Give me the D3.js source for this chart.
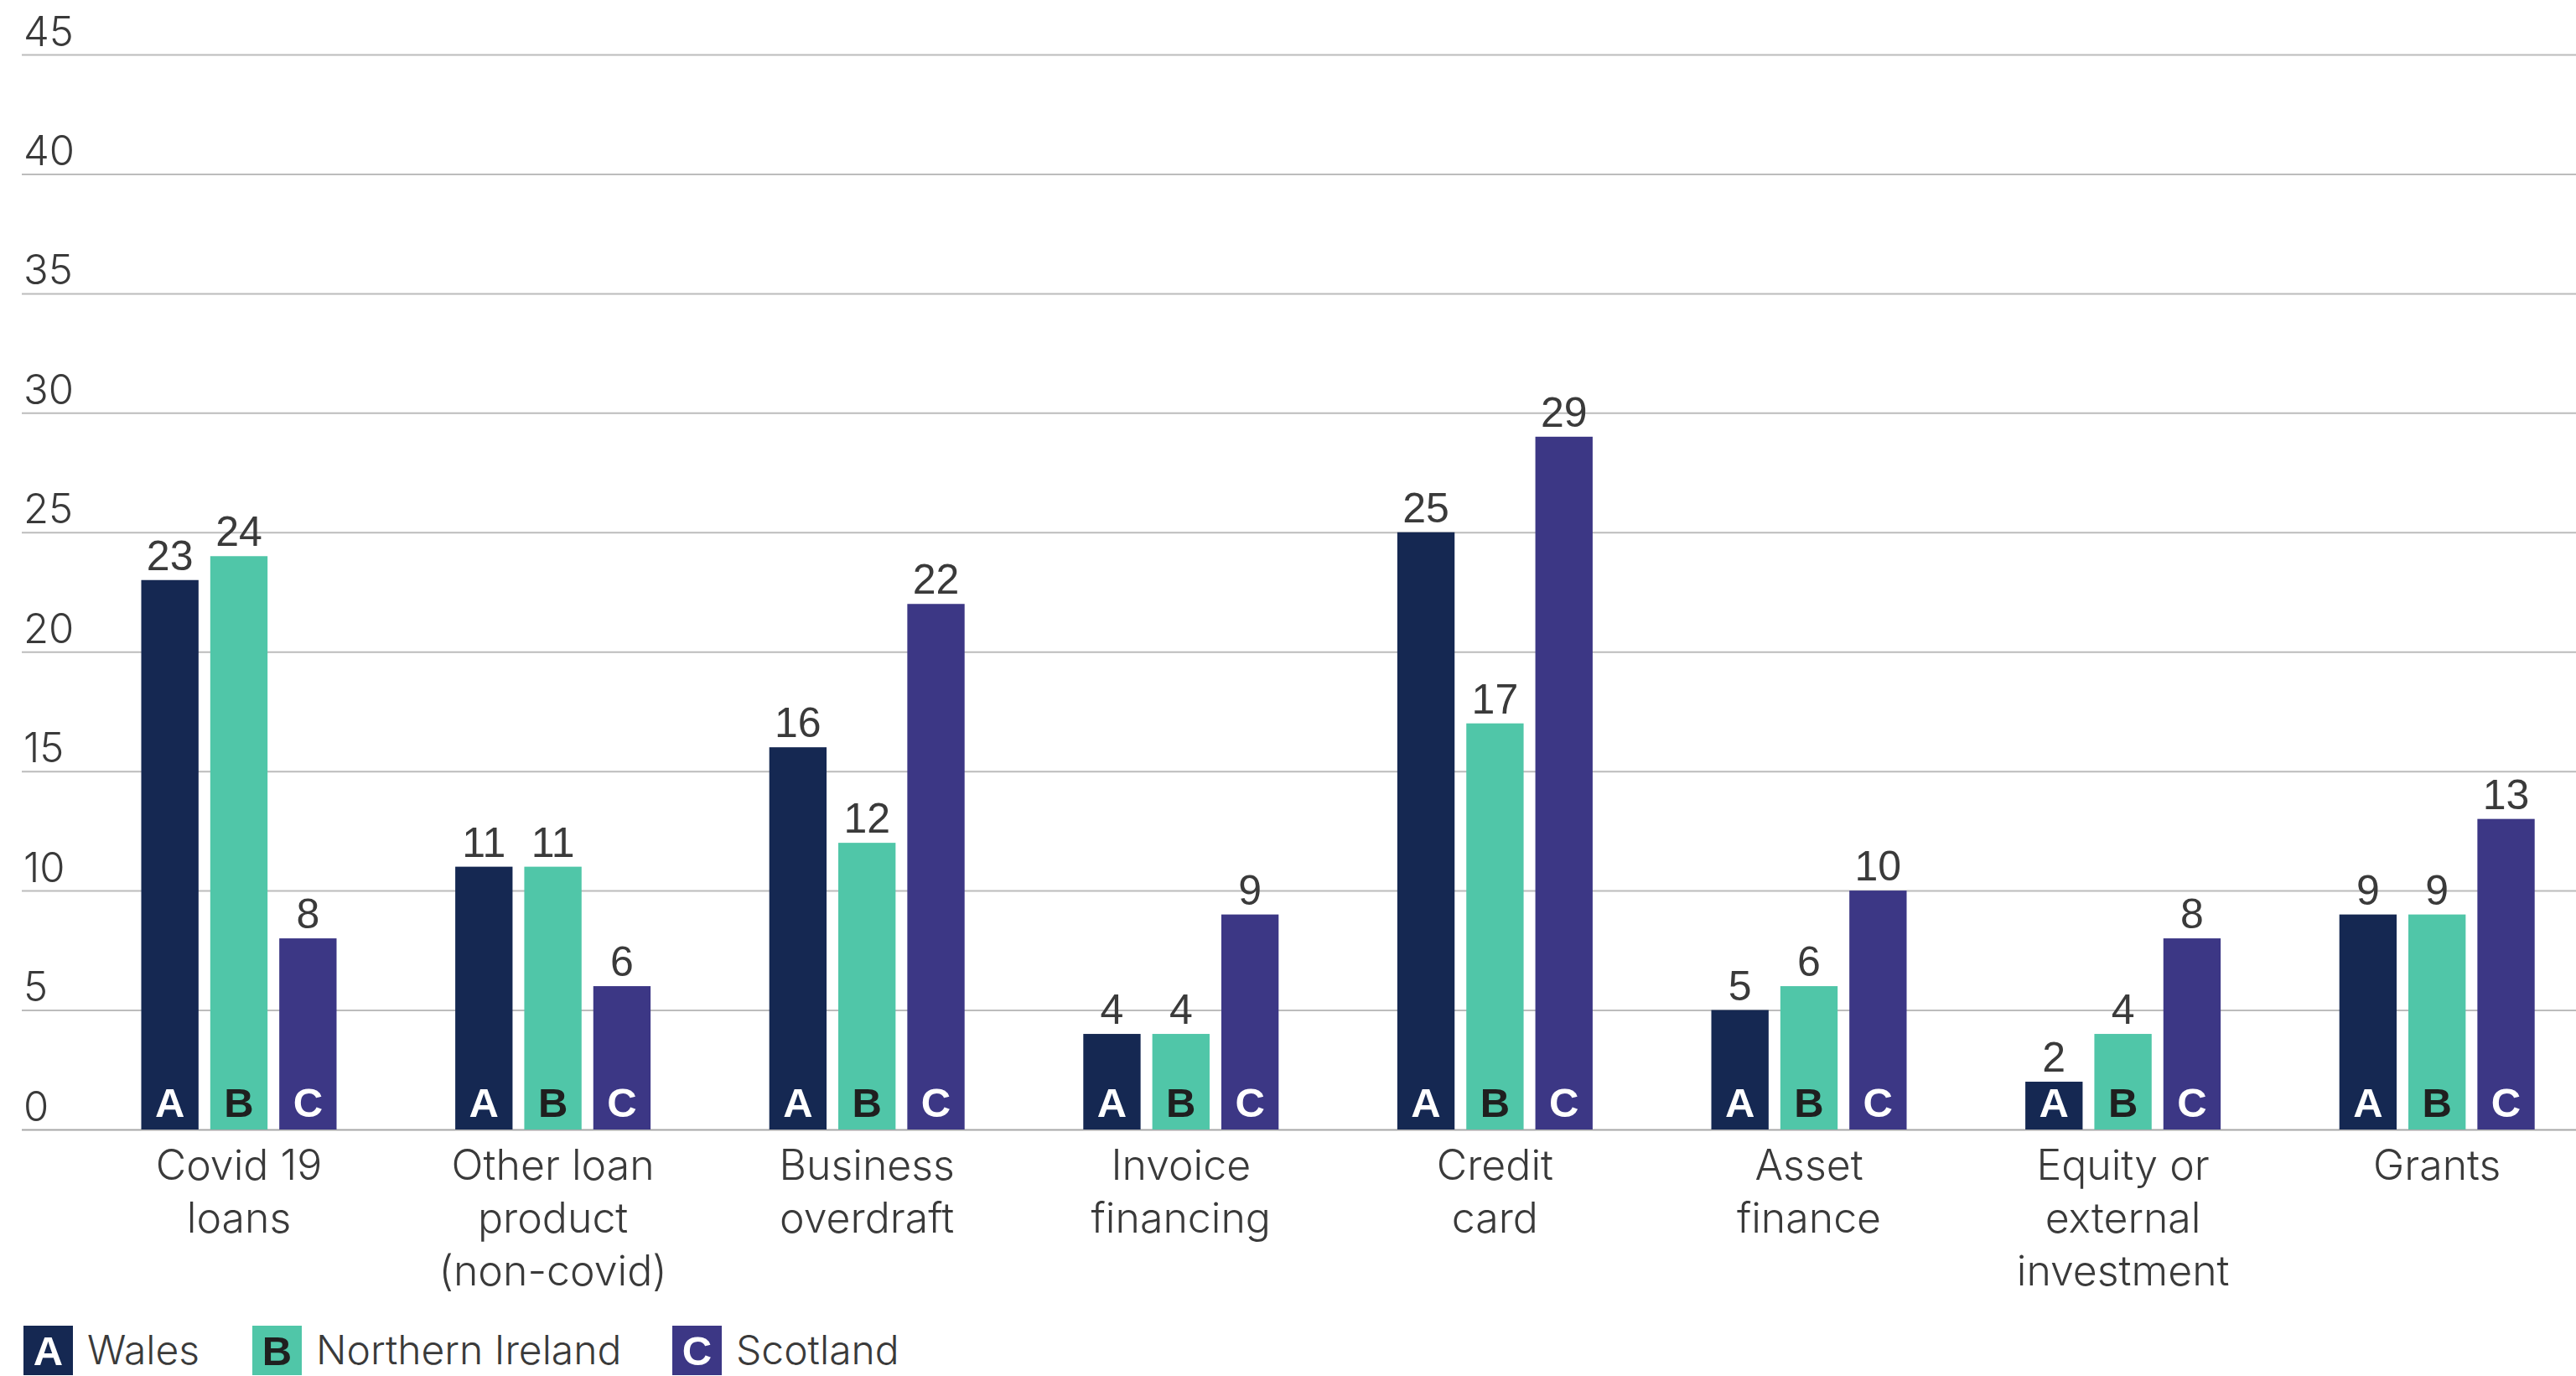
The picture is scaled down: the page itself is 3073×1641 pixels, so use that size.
<!DOCTYPE html>
<html>
<head>
<meta charset="utf-8">
<script src="https://cdn.jsdelivr.net/npm/d3@7/dist/d3.min.js"></script>
<style>
  html, body { margin: 0; padding: 0; background: #ffffff; }
  svg { display: block; }
  .light { font-family: "Inter", "Lato", "Noto Sans", sans-serif; font-weight: 300; fill: #3a3a3a; }
  .val { font-family: "Liberation Sans", Arial, sans-serif; fill: #3a3a3a; }
  .tag { font-family: "Liberation Sans", Arial, sans-serif; font-weight: bold; }
</style>
</head>
<body>
<svg id="chart" width="3073" height="1641"></svg>
<script>
// Finance products used, by nation (%)
const categories = [
  "Covid 19 loans",
  "Other loan product (non-covid)",
  "Business overdraft",
  "Invoice financing",
  "Credit card",
  "Asset finance",
  "Equity or external investment",
  "Grants"
];
const categoryLines = [
  ["Covid 19", "loans"],
  ["Other loan", "product", "(non-covid)"],
  ["Business", "overdraft"],
  ["Invoice", "financing"],
  ["Credit", "card"],
  ["Asset", "finance"],
  ["Equity or", "external", "investment"],
  ["Grants"]
];
const seriesNames = ["Wales", "Northern Ireland", "Scotland"];
const seriesTags = ["A", "B", "C"];
const walesValues = [23, 11, 16, 4, 25, 5, 2, 9];
const northernIrelandValues = [24, 11, 12, 4, 17, 6, 4, 9];
const scotlandValues = [8, 6, 22, 9, 29, 10, 8, 13];
const yTicks = [0, 5, 10, 15, 20, 25, 30, 35, 40, 45];

const seriesColors = ["#152852", "#50c6a8", "#3c3785"];
const tagColors = ["#ffffff", "#1f1f1f", "#ffffff"];

const series = [walesValues, northernIrelandValues, scotlandValues];
const rows = categories.map((c, i) => ({
  category: c,
  values: series.map((s, k) => ({ key: seriesNames[k], k, value: s[i] }))
}));

const svg = d3.select("#chart");
const W = 3073, H = 1641;
const gridLeft = 26;

const y = d3.scaleLinear().domain([0, 45]).range([1347, 65]);
const x = d3.scaleBand().domain(categories).range([168.5, 3023.7]).paddingInner(0.378).paddingOuter(0);
const xs = d3.scaleBand().domain(seriesNames).range([0, x.bandwidth()]).paddingInner(0.17).paddingOuter(0);

// Horizontal gridlines with their labels
const yAxis = svg.append("g")
  .attr("transform", `translate(${gridLeft},0)`)
  .call(d3.axisRight(y).tickValues(yTicks).tickSize(W - gridLeft).tickFormat(d3.format("d")));
yAxis.select(".domain").remove();
yAxis.selectAll(".tick line")
  .attr("stroke", d => d === 0 ? "#a8a8a8" : "#bcbcbc")
  .attr("stroke-width", 2);
yAxis.selectAll(".tick text")
  .attr("class", "light")
  .attr("x", 2)
  .attr("dy", null)
  .attr("y", -11)
  .attr("text-anchor", "start")
  .style("font-size", "49px")
  .attr("fill", "#3a3a3a");

// Bars
const groups = svg.append("g").selectAll("g.group")
  .data(rows)
  .join("g")
  .attr("class", "group")
  .attr("transform", d => `translate(${x(d.category)},0)`);

groups.selectAll("rect")
  .data(d => d.values)
  .join("rect")
  .attr("x", d => xs(d.key))
  .attr("y", d => y(d.value))
  .attr("width", xs.bandwidth())
  .attr("height", d => y(0) - y(d.value))
  .attr("fill", d => seriesColors[d.k]);

// Value labels above the bars
groups.selectAll("text.val")
  .data(d => d.values)
  .join("text")
  .attr("class", "val")
  .attr("x", d => xs(d.key) + xs.bandwidth() / 2)
  .attr("y", d => y(d.value) - 12)
  .attr("text-anchor", "middle")
  .style("font-size", "50px")
  .text(d => d.value);

// Series letters at the foot of each bar
groups.selectAll("text.tag")
  .data(d => d.values)
  .join("text")
  .attr("class", "tag")
  .attr("x", d => xs(d.key) + xs.bandwidth() / 2)
  .attr("y", y(0) - 15)
  .attr("text-anchor", "middle")
  .style("font-size", "49px")
  .attr("fill", d => tagColors[d.k])
  .text(d => seriesTags[d.k]);

// Category axis
const xAxis = svg.append("g")
  .attr("transform", `translate(0,${y(0)})`)
  .call(d3.axisBottom(x).tickSize(0).tickFormat(""));
xAxis.select(".domain").remove();
xAxis.selectAll(".tick").each(function(d, i) {
  const t = d3.select(this).append("text")
    .attr("class", "light")
    .attr("text-anchor", "middle")
    .style("font-size", "50px");
  categoryLines[i].forEach((line, j) => {
    t.append("tspan").attr("x", 0).attr("y", 60 + j * 63).text(line);
  });
});

// Legend
const legendX = [28, 301, 802];
const legend = svg.append("g").selectAll("g")
  .data(seriesNames)
  .join("g")
  .attr("transform", (d, i) => `translate(${legendX[i]},1581)`);
legend.append("rect")
  .attr("width", 59).attr("height", 59)
  .attr("fill", (d, i) => seriesColors[i]);
legend.append("text")
  .attr("class", "tag")
  .attr("x", 29.5).attr("y", 47)
  .attr("text-anchor", "middle")
  .style("font-size", "49px")
  .attr("fill", (d, i) => tagColors[i])
  .text((d, i) => seriesTags[i]);
legend.append("text")
  .attr("class", "light")
  .attr("x", 76).attr("y", 46)
  .style("font-size", "48px")
  .text(d => d);
</script>
</body>
</html>
